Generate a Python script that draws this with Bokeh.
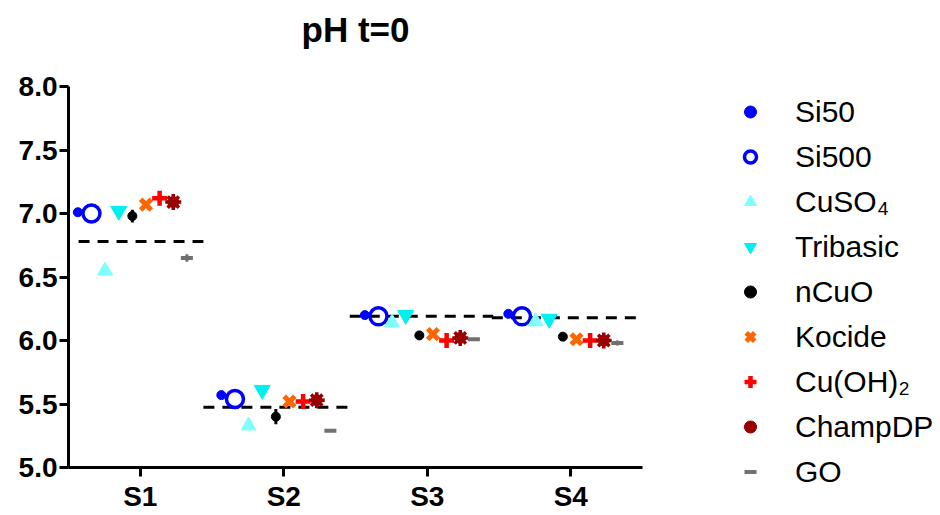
from bokeh.plotting import figure
from bokeh.models import Range1d, FixedTicker, Legend, LegendItem, Title
from bokeh.embed import file_html
from bokeh.resources import INLINE

# ---- data ----
groups = ["S1", "S2", "S3", "S4"]
si50 = [7.01, 5.57, 6.20, 6.21]
si500 = [7.00, 5.54, 6.19, 6.19]
cuso4 = [6.55, 5.33, 6.14, 6.15]
tribasic = [7.02, 5.61, 6.20, 6.17]
ncuo = [6.98, 5.40, 6.04, 6.03]
ncuo_err = [0.05, 0.06, 0.01, 0.02]
kocide = [7.07, 5.52, 6.05, 6.01]
cuoh2 = [7.12, 5.52, 6.00, 6.00]
champdp = [7.09, 5.53, 6.02, 6.00]
go = [6.65, 5.29, 6.01, 5.98]
go_err = [0.03, 0.0, 0.0, 0.02]
means = [6.78, 5.475, 6.19, 6.18]
mean_x0 = [0.57, 1.44, 2.46, 3.45]
mean_x1 = [1.44, 2.45, 3.46, 4.47]
y_ticks = [5.0, 5.5, 6.0, 6.5, 7.0, 7.5, 8.0]
title_text = "pH t=0"

FONT = "Liberation Sans"

p = figure(frame_width=574, frame_height=381, output_backend="svg", toolbar_location=None,
           x_range=Range1d(0.5, 4.5), y_range=Range1d(5, 8),
           min_border_left=68, min_border_right=0, min_border_top=86,
           min_border_bottom=46, title=None)
p.outline_line_color = None
p.grid.visible = False
p.background_fill_color = "white"
p.border_fill_color = "white"

# spacer (closest to the frame), then the real title above it
spacer = Title(text=" ", text_font_size="14px", standoff=13)
p.add_layout(spacer, "above")
title = Title(text=title_text, text_font=FONT, text_font_size="35px",
              text_font_style="bold", text_color="black", align="center",
              standoff=14)
p.add_layout(title, "above")

for ax in (p.xaxis[0], p.yaxis[0]):
    ax.axis_line_width = 3
    ax.axis_line_color = "black"
    ax.major_tick_line_width = 3
    ax.major_tick_out = 9
    ax.major_tick_in = 0
    ax.minor_tick_line_color = None
    ax.major_label_text_font = FONT
    ax.major_label_text_font_style = "bold"
    ax.major_label_text_font_size = "28px"
    ax.major_label_text_color = "black"

xpos = list(range(1, len(groups) + 1))
p.xaxis.ticker = FixedTicker(ticks=xpos)
p.xaxis.major_label_overrides = {x: g for x, g in zip(xpos, groups)}
p.xaxis.major_label_standoff = 4
p.yaxis.ticker = FixedTicker(ticks=y_ticks)
p.yaxis.major_label_overrides = {t: f"{t:.1f}" for t in y_ticks}
p.yaxis.major_label_standoff = 2

# mean dashed lines
p.segment(x0=mean_x0, x1=mean_x1, y0=means, y1=means, line_color="black",
          line_width=3, line_dash="11 8")

def xs(i):
    off = (i - 4) * 0.095 - 0.055
    return [x + off for x in xpos]

items = []

r1 = p.scatter(x=xs(0), y=si50, marker="circle", size=9, fill_color="#0000FF", line_color="#0000FF")
items.append(LegendItem(label="Si50", renderers=[r1]))
r2 = p.scatter(x=xs(1), y=si500, marker="circle", size=17, fill_color=None, line_color="#0000FF", line_width=3.5)
items.append(LegendItem(label="Si500", renderers=[r2]))
r3 = p.scatter(x=xs(2), y=cuso4, marker="triangle", size=15, fill_color="#80FFFF", line_color="#80FFFF")
items.append(LegendItem(label="CuSO\u2084", renderers=[r3]))
r4 = p.scatter(x=xs(3), y=tribasic, marker="inverted_triangle", size=16, fill_color="#00F0F0", line_color="#00F0F0")
items.append(LegendItem(label="Tribasic", renderers=[r4]))
xn = xs(4)
p.segment(x0=xn, x1=xn, y0=[v - e for v, e in zip(ncuo, ncuo_err)],
          y1=[v + e for v, e in zip(ncuo, ncuo_err)], line_color="black", line_width=3)
r5 = p.scatter(x=xn, y=ncuo, marker="circle", size=9, fill_color="black", line_color="black")
items.append(LegendItem(label="nCuO", renderers=[r5]))
r6 = p.scatter(x=xs(5), y=kocide, marker="x", size=15, line_color="#FF6600", line_width=5)
items.append(LegendItem(label="Kocide", renderers=[r6]))
r7 = p.scatter(x=xs(6), y=cuoh2, marker="cross", size=15, line_color="#FF0000", line_width=4.5)
items.append(LegendItem(label="Cu(OH)\u2082", renderers=[r7]))
r8a = p.scatter(x=xs(7), y=champdp, marker="circle", size=11, fill_color="#990000", line_color="#990000")
r8b = p.scatter(x=xs(7), y=champdp, marker="asterisk", size=16, line_color="#990000", line_width=3.5)
items.append(LegendItem(label="ChampDP", renderers=[r8a, r8b]))
xg = xs(8)
p.segment(x0=xg, x1=xg, y0=[v - e for v, e in zip(go, go_err)],
          y1=[v + e for v, e in zip(go, go_err)], line_color="#707070", line_width=3)
r9 = p.scatter(x=xg, y=go, marker="dash", size=12, line_color="#707070", line_width=4)
items.append(LegendItem(label="GO", renderers=[r9]))

legend = Legend(items=items, location=(93, -22), margin=0, padding=0,
                border_line_color=None, background_fill_alpha=0,
                glyph_width=30, glyph_height=35, label_height=35,
                spacing=10, label_standoff=30,
                label_text_font=FONT, label_text_font_size="30px",
                label_text_color="black")
p.add_layout(legend, "right")

open("out.html", "w").write(file_html(p, INLINE))
